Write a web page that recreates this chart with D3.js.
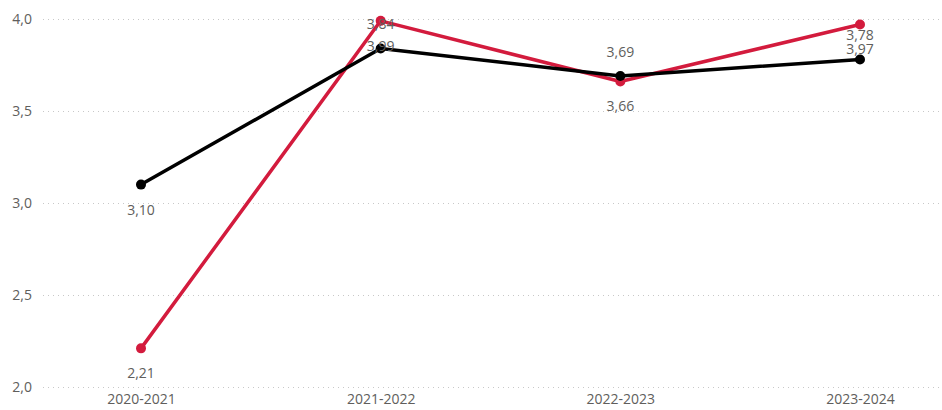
<!DOCTYPE html>
<html>
<head>
<meta charset="utf-8">
<script src="https://cdn.jsdelivr.net/npm/d3@7"></script>
<style>
  body { margin: 0; background: #fff; }
  svg text { font-family: 'Open Sans', 'Noto Sans', sans-serif; }
</style>
</head>
<body>
<svg id="chart"></svg>
<script>
// data
const years = ['2020-2021', '2021-2022', '2022-2023', '2023-2024'];
const redValues = [2.21, 3.99, 3.66, 3.97];
const blackValues = [3.10, 3.84, 3.69, 3.78];
// where each data label sits relative to its point
const redLabelPos = ['below', 'below', 'below', 'below'];
const blackLabelPos = ['below', 'above', 'above', 'above'];
const yTicks = [2.0, 2.5, 3.0, 3.5, 4.0];

const width = 942;
const height = 410;

const svg = d3.select('#chart')
    .attr('width', width)
    .attr('height', height);

const x = d3.scalePoint()
    .domain(years)
    .range([141, 860]);

const y = d3.scaleLinear()
    .domain([2, 4])
    .range([387, 19]);

const fmt = v => d3.format('.1f')(v).replace('.', ',');
const fmt2 = v => d3.format('.2f')(v).replace('.', ',');

// gridlines + y ticks
const yAxis = svg.append('g')
    .attr('transform', 'translate(43,0)')
    .call(d3.axisLeft(y).tickValues(yTicks).tickFormat(fmt).tickSize(-(width - 43)).tickPadding(11));
yAxis.select('.domain').remove();
yAxis.selectAll('.tick line')
    .attr('stroke', '#c8c8c8')
    .attr('stroke-width', 1)
    .attr('stroke-dasharray', '1,4');
yAxis.selectAll('.tick text')
    .attr('fill', '#605e5c')
    .style('font-size', '14px');

// x axis labels
const xAxis = svg.append('g')
    .attr('transform', 'translate(0,393)')
    .call(d3.axisBottom(x).tickSize(0).tickPadding(0));
xAxis.select('.domain').remove();
xAxis.selectAll('.tick text')
    .attr('fill', '#605e5c')
    .attr('dy', '0.8em')
    .style('font-size', '14px');

const series = [
    { name: 'red', values: redValues, color: '#d31b3d', labelPos: redLabelPos },
    { name: 'black', values: blackValues, color: '#000000', labelPos: blackLabelPos }
];

const line = d3.line()
    .x((d, i) => x(years[i]))
    .y(d => y(d));

series.forEach(s => {
    const g = svg.append('g').attr('class', 'series-' + s.name);

    g.append('path')
        .datum(s.values)
        .attr('fill', 'none')
        .attr('stroke', s.color)
        .attr('stroke-width', 3.5)
        .attr('stroke-linejoin', 'round')
        .attr('d', line);

    g.selectAll('circle')
        .data(s.values)
        .enter()
        .append('circle')
            .attr('cx', (d, i) => x(years[i]))
            .attr('cy', d => y(d))
            .attr('r', 5)
            .attr('fill', s.color);
});

// data labels on top
series.forEach(s => {
    svg.append('g')
        .selectAll('text')
        .data(s.values)
        .enter()
        .append('text')
            .attr('x', (d, i) => x(years[i]))
            .attr('y', (d, i) => y(d) + (s.labelPos[i] === 'above' ? -24 : 25))
            .attr('dy', '0.35em')
            .attr('text-anchor', 'middle')
            .attr('fill', '#605e5c')
            .style('font-size', '14px')
            .text(d => fmt2(d));
});
</script>
</body>
</html>
